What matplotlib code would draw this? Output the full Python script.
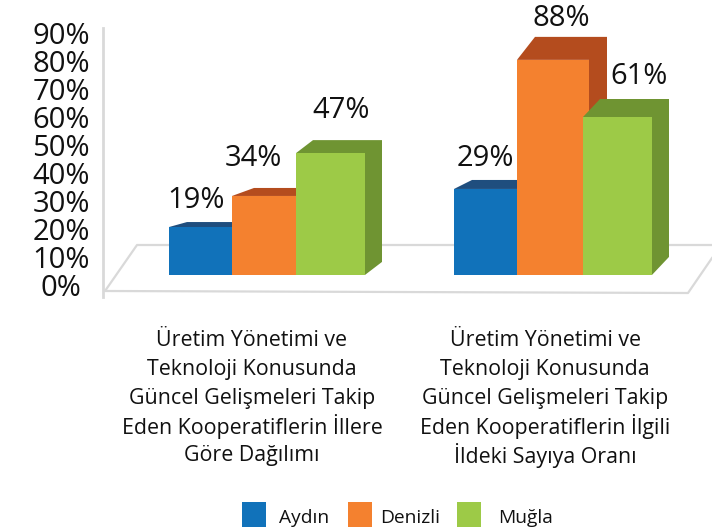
import matplotlib
matplotlib.use("Agg")
import matplotlib.pyplot as plt
from matplotlib.patches import Polygon, Rectangle

plt.rcParams['font.family'] = ['Open Sans', 'DejaVu Sans']

# Data
series = ["Aydın", "Denizli", "Muğla"]
categories = [
    "Üretim Yönetimi ve\nTeknoloji Konusunda\nGüncel Gelişmeleri Takip\nEden Kooperatiflerin İllere\nGöre Dağılımı",
    "Üretim Yönetimi ve\nTeknoloji Konusunda\nGüncel Gelişmeleri Takip\nEden Kooperatiflerin İlgili\nİldeki Sayıya Oranı",
]
tick_values = [0, 10, 20, 30, 40, 50, 60, 70, 80, 90]
# printed labels
labels_group1 = [19, 34, 47]
labels_group2 = [29, 88, 61]
# bar tops as drawn, read against the axis (they don't follow the labels exactly)
tops_group1 = [20.7, 31.8, 47.1]
tops_group2 = [34.3, 80.4, 60.0]

# Styles / geometry
front_colors = ["#1172BA", "#F4812F", "#9DCA47"]
dark_colors = ["#1F4E7E", "#B44C1E", "#6F9432"]
grey = "#D9D9D9"
px = 2.8  # pixels per axis percent
base = 3.6
edges_group1 = [(169, 232), (232, 296), (296, 365)]
edges_group2 = [(454, 517), (517, 589), (583, 652)]
depth_group1 = [(18, 5), (22, 8), (17, 13)]
depth_group2 = [(18, 9), (18, 23), (17, 18)]

fig = plt.figure(figsize=(7.12, 5.3), dpi=100)
ax = fig.add_axes([103 / 712, 233 / 530, 609 / 712, 269 / 530])
ax.set_xlim(103, 712)
ax.set_ylim(-12 / px, 257 / px)
ax.patch.set_alpha(0)

for s in ["top", "right", "bottom"]:
    ax.spines[s].set_visible(False)
ax.spines["left"].set_color(grey)
ax.spines["left"].set_linewidth(2)

ax.set_xticks([])
ax.set_yticks(tick_values)
ax.set_yticklabels([f"{v}%" for v in tick_values], fontsize=21, color="#111111", ha="center")
ax.tick_params(axis="y", length=0, pad=30)

# floor
fy = lambda p: (285 - p) / px
ax.plot([712, 137, 105, 688, 712], [fy(245), fy(245), fy(291), fy(293), fy(258)],
        color=grey, lw=1.6, clip_on=False, zorder=1)


def draw_group(edges, tops, depth, labels, label_pos):
    for i, ((x0, x1), top, (dx, dy)) in enumerate(zip(edges, tops, depth)):
        d = dy / px
        z = 2 + i
        # top and side faces as one shape
        ax.add_patch(Polygon([(x0, top), (x0 + dx, top + d), (x1 + dx, top + d),
                              (x1 + dx, base + d), (x1, base), (x1, top)],
                             color=dark_colors[i], lw=0, zorder=z))
        ax.bar(x0, top - base, width=x1 - x0, bottom=base, align="edge",
               color=front_colors[i], lw=0, zorder=z + 0.5)
        lx, ly = label_pos[i]
        ax.text(lx, fy(ly), f"{labels[i]}%", fontsize=21, color="#111111",
                ha="center", va="center", zorder=10, clip_on=False)


draw_group(edges_group1, tops_group1, depth_group1, labels_group1,
           [(196, 201), (253, 158), (341, 111)])
draw_group(edges_group2, tops_group2, depth_group2, labels_group2,
           [(485, 158), (561, 18), (639, 77)])

# category labels, one line at a time so the dotted capitals don't stretch the spacing
for cx, text in zip([252, 545], categories):
    for n, line in enumerate(text.split("\n")):
        fig.text(cx / 712, 1 - (338 + n * 28.8) / 530, line, fontsize=15.4, color="#111111",
                 ha="center", va="center_baseline")

# legend
for i, (sx, tx) in enumerate(zip([242, 348, 457], [304, 410, 526])):
    fig.patches.append(Rectangle((sx / 712, 1 - 527 / 530), 24 / 712, 25 / 530,
                                 transform=fig.transFigure, color=front_colors[i], lw=0))
    fig.text(tx / 712, 1 - 518 / 530, series[i], fontsize=13.8, color="#111111",
             ha="center", va="center")

fig.savefig("out.png", dpi=100)
